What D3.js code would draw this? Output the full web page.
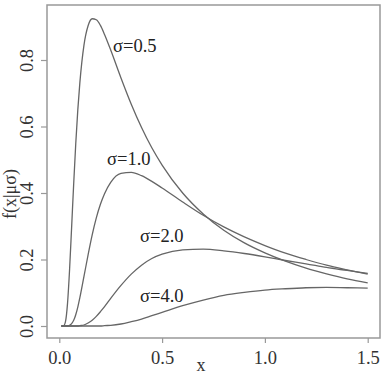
<!DOCTYPE html>
<html>
<head>
<meta charset="utf-8">
<script src="https://cdn.jsdelivr.net/npm/d3@7"></script>
<style>
  body { margin: 0; background: #fff; }
  svg { display: block; }
  text { font-family: "Liberation Serif", "Times New Roman", serif; fill: #333; }
</style>
</head>
<body>
<div id="chart"></div>
<script>
// x grid the curves were read at
const xs = [0.01, 0.02, 0.03, 0.04, 0.05, 0.06, 0.07, 0.08, 0.09, 0.10,
  0.12, 0.14, 0.16, 0.18, 0.20, 0.22, 0.25, 0.30, 0.35, 0.40, 0.45, 0.50,
  0.60, 0.70, 0.80, 0.90, 1.00, 1.10, 1.20, 1.30, 1.40, 1.50];

// f(x|mu sigma), one array per sigma
const sigma05 = [0, 0.000, 0.013, 0.068, 0.170, 0.298, 0.428, 0.548, 0.650, 0.732,
  0.845, 0.903, 0.924, 0.921, 0.904, 0.877, 0.830, 0.746, 0.667, 0.597, 0.536, 0.484,
  0.400, 0.337, 0.288, 0.250, 0.220, 0.195, 0.174, 0.157, 0.142, 0.130];
const sigma10 = [0, 0, 0, 0.000, 0.002, 0.007, 0.017, 0.034, 0.057, 0.085,
  0.149, 0.214, 0.274, 0.325, 0.366, 0.398, 0.432, 0.459, 0.462, 0.452, 0.435, 0.415,
  0.373, 0.333, 0.298, 0.268, 0.242, 0.219, 0.200, 0.183, 0.169, 0.156];
const sigma20 = [0, 0, 0, 0, 0, 0, 0, 0.000, 0.000, 0.001,
  0.003, 0.009, 0.017, 0.029, 0.043, 0.058, 0.083, 0.122, 0.156, 0.183, 0.203, 0.216,
  0.229, 0.231, 0.226, 0.218, 0.208, 0.197, 0.187, 0.176, 0.167, 0.158];
const sigma40 = [0, 0, 0, 0, 0, 0, 0, 0, 0, 0,
  0, 0, 0.000, 0.000, 0.000, 0.001, 0.002, 0.006, 0.013, 0.021, 0.031, 0.041,
  0.061, 0.078, 0.092, 0.101, 0.108, 0.112, 0.115, 0.116, 0.115, 0.114];

const series = [sigma05, sigma10, sigma20, sigma40];
const seriesLabels = ['σ=0.5', 'σ=1.0', 'σ=2.0', 'σ=4.0'];
const xTicks = [0, 0.5, 1.0, 1.5];
const yTicks = [0, 0.2, 0.4, 0.6, 0.8];

const width = 388;
const height = 376;
const box = { left: 47, right: 380, top: 5, bottom: 338 };

const svg = d3.select('#chart')
  .append('svg')
  .attr('width', width)
  .attr('height', height);

const x = d3.scaleLinear().domain([0, 1.5]).range([59.3, 367.7]);
const y = d3.scaleLinear().domain([0, 0.8]).range([326, 60]);

// plot frame
svg.append('rect')
  .attr('x', box.left)
  .attr('y', box.top)
  .attr('width', box.right - box.left)
  .attr('height', box.bottom - box.top)
  .attr('fill', 'none')
  .attr('stroke', '#999')
  .attr('stroke-width', 1.5);

// x axis
const gx = svg.append('g')
  .attr('transform', 'translate(0,' + box.bottom + ')')
  .call(d3.axisBottom(x).tickValues(xTicks).tickFormat(d3.format('.1f')).tickSize(5));
gx.select('.domain').remove();
gx.selectAll('line').attr('stroke', '#999').attr('stroke-width', 1.2);
gx.selectAll('text')
  .attr('y', 26)
  .attr('dy', 0)
  .style('font-size', '18.5px')
  .style('fill', '#333');

// y axis, labels parallel to the axis
const gy = svg.append('g')
  .attr('transform', 'translate(' + box.left + ',0)')
  .call(d3.axisLeft(y).tickValues(yTicks).tickFormat(d3.format('.1f')).tickSize(6));
gy.select('.domain').remove();
gy.selectAll('line').attr('stroke', '#999').attr('stroke-width', 1.2);
gy.selectAll('text')
  .attr('x', 0)
  .attr('dy', 0)
  .attr('transform', 'translate(-14,0) rotate(-90)')
  .style('text-anchor', 'middle')
  .style('font-size', '18.5px')
  .style('fill', '#333');

// axis titles
svg.append('text')
  .attr('transform', 'translate(16,194) rotate(-90)')
  .style('text-anchor', 'middle')
  .style('font-size', '18px')
  .text('f(x|μσ)');

svg.append('text')
  .attr('x', 201)
  .attr('y', 371)
  .style('text-anchor', 'middle')
  .style('font-size', '18px')
  .text('x');

// curves
const line = d3.line()
  .x((d, i) => x(xs[i]))
  .y(d => y(d))
  .curve(d3.curveMonotoneX);

svg.selectAll('path.curve')
  .data(series)
  .enter()
  .append('path')
  .attr('class', 'curve')
  .attr('d', line)
  .attr('fill', 'none')
  .attr('stroke', '#666')
  .attr('stroke-width', 1.3);

// curve labels
const labelPos = [[113, 52], [107, 165], [140, 242], [140, 302]];
svg.selectAll('text.lab')
  .data(seriesLabels)
  .enter()
  .append('text')
  .attr('class', 'lab')
  .attr('x', (d, i) => labelPos[i][0])
  .attr('y', (d, i) => labelPos[i][1])
  .style('font-size', '18.5px')
  .style('fill', '#222')
  .text(d => d);
</script>
</body>
</html>
